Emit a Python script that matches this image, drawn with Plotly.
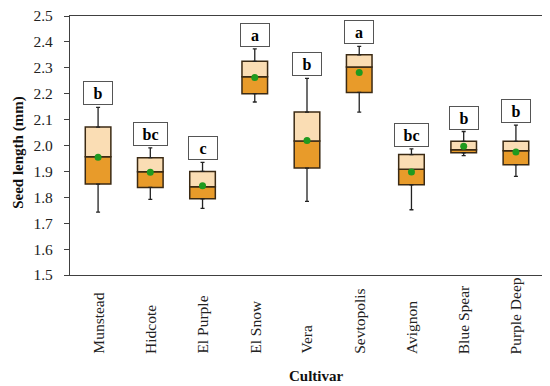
import plotly.graph_objects as go

cultivars = ["Munstead", "Hidcote", "El Purple", "El Snow", "Vera",
             "Sevtopolis", "Avignon", "Blue Spear", "Purple Deep"]
whisker_low = [1.743, 1.792, 1.757, 2.168, 1.784, 2.129, 1.752, 1.961, 1.881]
q1 = [1.851, 1.838, 1.794, 2.200, 1.913, 2.205, 1.848, 1.972, 1.926]
median = [1.957, 1.899, 1.841, 2.265, 2.017, 2.303, 1.908, 1.984, 1.980]
q3 = [2.071, 1.953, 1.900, 2.325, 2.129, 2.350, 1.965, 2.016, 2.016]
whisker_high = [2.147, 1.991, 1.935, 2.373, 2.259, 2.383, 1.987, 2.054, 2.079]
mean = [1.955, 1.897, 1.845, 2.263, 2.019, 2.282, 1.898, 1.997, 1.975]
letters = ["b", "bc", "c", "a", "b", "a", "bc", "b", "b"]
y_ticks = [1.5, 1.6, 1.7, 1.8, 1.9, 2.0, 2.1, 2.2, 2.3, 2.4, 2.5]

FONT = "Liberation Serif"
edge = "#3b2a14"

fig = go.Figure()
# lower half of box (Q1 -> median)
fig.add_trace(go.Bar(
    x=cultivars, y=[m - a for m, a in zip(median, q1)], base=q1,
    marker=dict(color="#E89B2A", line=dict(color=edge, width=1.5)),
    width=0.49, hoverinfo="skip"))
# upper half of box (median -> Q3)
fig.add_trace(go.Bar(
    x=cultivars, y=[b - m for b, m in zip(q3, median)], base=median,
    marker=dict(color="#FADDB4", line=dict(color=edge, width=1.5)),
    width=0.49, hoverinfo="skip"))
# upper whiskers
fig.add_trace(go.Scatter(
    x=cultivars, y=q3, mode="markers", marker=dict(size=1, opacity=0),
    error_y=dict(type="data", symmetric=False,
                 array=[h - b for h, b in zip(whisker_high, q3)],
                 arrayminus=[0] * len(q3), color="#222222", thickness=1.3, width=2),
    hoverinfo="skip"))
# lower whiskers
fig.add_trace(go.Scatter(
    x=cultivars, y=q1, mode="markers", marker=dict(size=1, opacity=0),
    error_y=dict(type="data", symmetric=False,
                 array=[0] * len(q1),
                 arrayminus=[a - l for a, l in zip(q1, whisker_low)],
                 color="#222222", thickness=1.3, width=2),
    hoverinfo="skip"))
# means
fig.add_trace(go.Scatter(
    x=cultivars, y=mean, mode="markers",
    marker=dict(color="#1f9a1f", size=7, line=dict(width=0))))

annots = []
for c, h, l in zip(cultivars, whisker_high, letters):
    annots.append(dict(
        x=c, y=h, xref="x", yref="y", text="<b>%s</b>" % l, showarrow=False,
        yanchor="bottom", yshift=2, width=21 + 5 * len(l), height=20,
        bgcolor="white", bordercolor="#555555", borderwidth=1, borderpad=1,
        font=dict(family=FONT, size=16, color="black")))
# category labels, bottom-aligned and rotated
for c in cultivars:
    annots.append(dict(
        x=c, y=-0.313, xref="x", yref="paper", text=c, showarrow=False,
        textangle=-90, yanchor="bottom", xanchor="center",
        font=dict(family=FONT, size=15.5, color="#222222")))
annots += [
    dict(text="<b>Seed length (mm)</b>", xref="paper", yref="paper",
         x=-0.109, y=0.473, textangle=-90, showarrow=False,
         xanchor="center", yanchor="middle",
         font=dict(family=FONT, size=15, color="#111111")),
    dict(text="<b>Cultivar</b>", xref="paper", yref="paper",
         x=0.521, y=-0.39, showarrow=False, xanchor="center", yanchor="middle",
         font=dict(family=FONT, size=15, color="#111111")),
]

fig.update_layout(
    width=542, height=378, barmode="overlay", showlegend=False,
    plot_bgcolor="white", paper_bgcolor="white",
    margin=dict(l=62, r=6, t=8, b=111),
    font=dict(family=FONT, size=16, color="#222222"),
    annotations=annots,
)
fig.update_xaxes(showline=True, linecolor="#404040", linewidth=1.2, mirror=True,
                 ticks="", showticklabels=False, showgrid=False)
fig.update_yaxes(range=[1.5, 2.5], tickvals=y_ticks, tickformat=".1f",
                 showline=True, linecolor="#404040", linewidth=1.2, mirror=True,
                 ticks="outside", ticklen=5, tickcolor="#404040", showgrid=False,
                 zeroline=False, ticklabelstandoff=8, ticklabeloverflow="allow",
                 automargin=False,
                 tickfont=dict(family=FONT, size=15.5, color="#222222"))
fig.write_html("out.html")
